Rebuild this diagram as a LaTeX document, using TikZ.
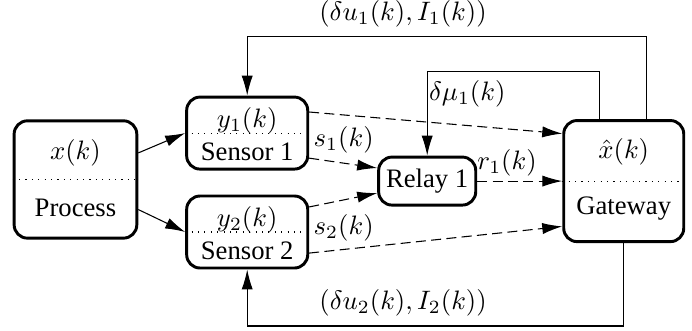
\documentclass[tikz,border=0pt]{standalone}
\usepackage{amsmath}
\usepackage{fontspec}
\setmainfont{Liberation Serif}
\usetikzlibrary{arrows.meta, positioning}

\begin{document}
\begin{tikzpicture}[
      block/.style={
        draw,
        line width=1.1pt,
        rounded corners=5pt,
        inner sep=0pt
      },
      divider/.style={dotted},
      tag/.style={inner sep=1.5pt},
      flow/.style={-{Latex[length=7.5pt, width=4.2pt]}},
      wireless/.style={flow, dash pattern=on 3.75pt off 2pt}
    ]
    \useasboundingbox (0,0) rectangle (259.5pt,-124.1pt);

    % plant and sensors
    \node[block, minimum width=46pt, minimum height=44pt] (process) at (28.3pt,-67.3pt) {};
    \node[block, minimum width=45.4pt, minimum height=27pt,
      right=17.6pt of process, yshift=17.4pt] (sensor1) {};
    \node[block, minimum width=45.4pt, minimum height=27pt,
      below=9pt of sensor1] (sensor2) {};
    \node[block, minimum width=36.4pt, minimum height=18pt,
      right=25.5pt of sensor1, yshift=-18pt] (relay) {Relay 1};
    \node[block, minimum width=45pt, minimum height=45.4pt,
      right=31.9pt of relay] (gateway) {};

    \node (state) at ([yshift=10.1pt]process.center) {$x(k)$};
    \node (proclabel) at ([yshift=-10.7pt]process.center) {Process};
    \node (meas1) at ([yshift=4.5pt]sensor1.center) {$y_1(k)$};
    \node (sens1label) at ([yshift=-6.9pt]sensor1.center) {Sensor 1};
    \node (meas2) at ([yshift=4.5pt]sensor2.center) {$y_2(k)$};
    \node (sens2label) at ([yshift=-6.9pt]sensor2.center) {Sensor 2};
    \node (estimate) at ([yshift=11pt]gateway.center) {$\hat{x}(k)$};
    \node (gwlabel) at ([yshift=-10.3pt]gateway.center) {Gateway};

    \draw[divider] (process.west) -- (process.east);
    \draw[divider] (sensor1.west) -- (sensor1.east);
    \draw[divider] (sensor2.west) -- (sensor2.east);
    \draw[divider] (gateway.west) -- (gateway.east);

    % measurements
    \draw[flow] (process) -- (sensor1.west);
    \draw[flow] (process) -- (sensor2.west);

    % wireless links
    \draw[wireless] ([yshift=7.9pt]sensor1.east) -- ([yshift=17.8pt]gateway.west);
    \draw[wireless] ([yshift=-9.4pt]sensor1.east) -- ([yshift=4.9pt]relay.west);
    \draw[wireless] ([yshift=9.4pt]sensor2.east) -- ([yshift=-4.5pt]relay.west);
    \draw[wireless] ([yshift=-7.9pt]sensor2.east) -- ([yshift=-17pt]gateway.west);
    \draw[wireless] (relay.east) -- node[tag, above, pos=0.35] {$r_1(k)$} (gateway.west);
    \node[tag, anchor=west] (s1) at ([yshift=-2.6pt]sensor1.east) {$s_1(k)$};
    \node[tag, anchor=west] (s2) at ([yshift=1.5pt]sensor2.east) {$s_2(k)$};

    % feedback from the gateway
    \draw[flow] ([xshift=8.6pt]gateway.north) -- ++(0,31.1pt)
      -| node[above, pos=0.305] {$(\delta u_1(k), I_1(k))$} (sensor1.north);
    \draw[flow] ([xshift=-9pt]gateway.north) -- ++(0,18pt)
      -| node[tag, anchor=north west, pos=0.5, xshift=-1pt, yshift=-2pt] {$\delta\mu_1(k)$} (relay.north);
    \draw[flow] (gateway.south) -- ++(0,-31.1pt)
      -| node[above, pos=0.293] {$(\delta u_2(k), I_2(k))$} (sensor2.south);
  \end{tikzpicture}
\end{document}
